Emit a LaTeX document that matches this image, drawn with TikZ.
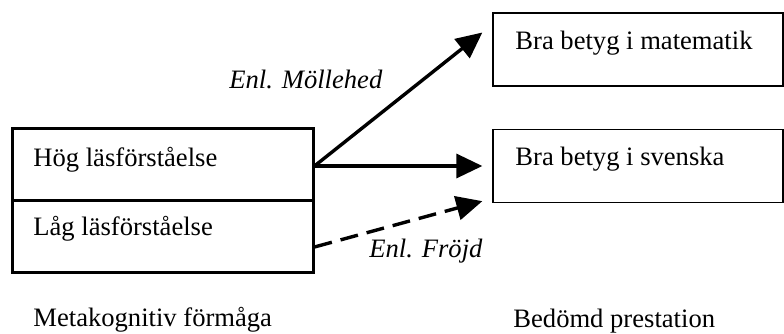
\documentclass[tikz,border=0pt]{standalone}
\usepackage{fontspec}
\setmainfont{Liberation Serif}
\usetikzlibrary{arrows.meta}
\begin{document}
\begin{tikzpicture}[x=0.5pt,y=-0.5pt,
  leftbox/.style={draw,line width=1.5pt,minimum width=150.5pt,minimum height=36pt,inner sep=0pt},
  rightbox/.style={draw,line width=0.65pt,minimum width=145pt,minimum height=36.5pt,inner sep=0pt},
  txt/.style={anchor=base west,inner sep=0pt,font=\fontsize{13.3}{16}\selectfont},
  ital/.style={anchor=base west,inner sep=0pt,font=\fontsize{13.3}{16}\selectfont\itshape},
  conn/.style={line width=1.7pt,-{Triangle[length=13pt,width=12pt]}},
  dconn/.style={conn,dash pattern=on 9pt off 4.5pt}]
\useasboundingbox (0,0) rectangle (784,333);
\node[leftbox] (hog) at (162.5,164) {};
\node[leftbox] (lag) at (162.5,236) {};
\node[rightbox] (mat) at (638,49.5) {};
\node[rightbox] (sv) at (638,166) {};
\node[txt] (thog) at (33,166) {Hög läsförståelse};
\node[txt] (tlag) at (33,235) {Låg läsförståelse};
\node[txt] (tmat) at (515,49) {Bra betyg i matematik};
\node[txt] (tsv) at (515,165) {Bra betyg i svenska};
\node[ital] (moll) at (229,88) {Enl. Möllehed};
\node[ital] (frojd) at (369,257) {Enl. Fröjd};
\node[txt] (meta) at (33,326) {Metakognitiv förmåga};
\node[txt] (bed) at (513,327) {Bedömd prestation};
\coordinate (o1) at ([yshift=-1pt]hog.east);
\coordinate (e1) at ([xshift=-5pt,yshift=8.5pt]mat.west);
\coordinate (e2) at ([xshift=-5pt]sv.west);
\coordinate (o3) at ([yshift=-5.5pt]lag.east);
\coordinate (e3) at ([xshift=-5pt,yshift=1pt]sv.south west);
\draw[conn] (o1) -- (e1);
\draw[conn] (o1) -- (e2);
\draw[dconn] (o3) -- (e3);
\end{tikzpicture}
\end{document}
